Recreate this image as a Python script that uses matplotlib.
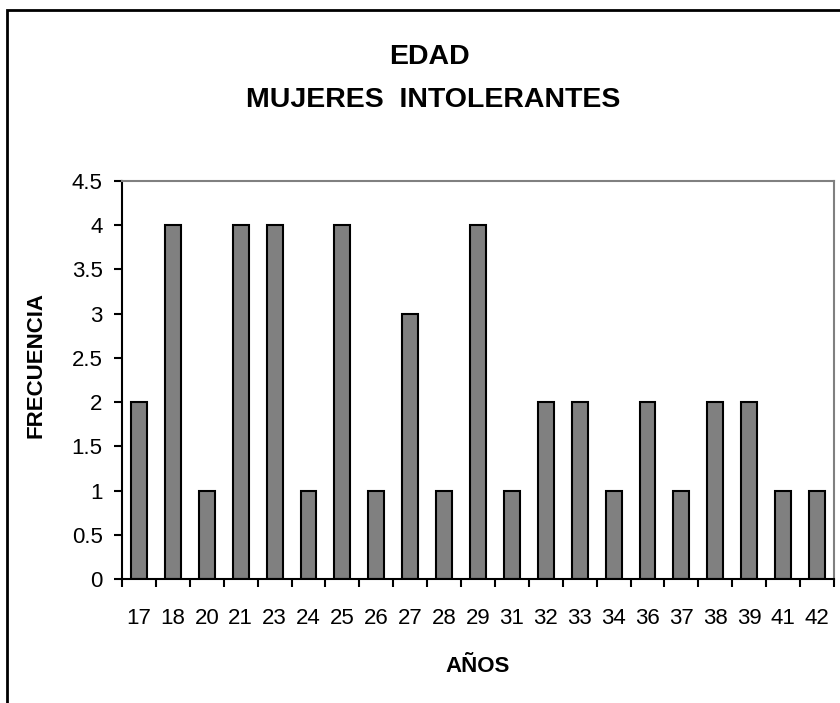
import matplotlib
matplotlib.use("Agg")
from matplotlib import pyplot as plt
from matplotlib.patches import Rectangle

# datos
edades = ["17", "18", "20", "21", "23", "24", "25", "26", "27", "28", "29",
          "31", "32", "33", "34", "36", "37", "38", "39", "41", "42"]
frecuencia = [2, 4, 1, 4, 4, 1, 4, 1, 3, 1, 4, 1, 2, 2, 1, 2, 1, 2, 2, 1, 1]
yticks = [0, 0.5, 1, 1.5, 2, 2.5, 3, 3.5, 4, 4.5]
ylabels = ["0", "0.5", "1", "1.5", "2", "2.5", "3", "3.5", "4", "4.5"]

plt.rcParams["font.family"] = ["Liberation Sans", "DejaVu Sans"]

W, H = 840, 703
fig = plt.figure(figsize=(W / 100, H / 100), dpi=100)
ax = fig.add_axes([122 / W, 1 - 579 / H, 712 / W, 398 / H])

pos = list(range(len(edades)))
ax.bar(pos, frecuencia, width=0.47, color="#808080", edgecolor="black", linewidth=1.5)

ax.set_xlim(-0.5, len(edades) - 0.5)
ax.set_ylim(0, 4.5)

ax.set_yticks(yticks)
ax.set_yticklabels(ylabels, fontsize=16)
ax.tick_params(axis="y", direction="out", length=6, width=1.5, pad=8)

ax.set_xticks(pos)
ax.set_xticklabels(edades, fontsize=16)
ax.set_xticks([p - 0.5 for p in pos] + [len(edades) - 0.5], minor=True)
ax.tick_params(axis="x", which="major", length=0, pad=21)
ax.tick_params(axis="x", which="minor", direction="out", length=6, width=1.5)

for s in ["left", "bottom"]:
    ax.spines[s].set_color("black")
    ax.spines[s].set_linewidth(1.5)
for s in ["top", "right"]:
    ax.spines[s].set_color("#808080")
    ax.spines[s].set_linewidth(1.5)

fig.text(429 / W, 1 - 64 / H, "EDAD", ha="center", va="baseline",
         fontsize=20.5, fontweight="bold")
fig.text(433 / W, 1 - 107 / H, "MUJERES  INTOLERANTES", ha="center", va="baseline",
         fontsize=20.5, fontweight="bold")
fig.text(36 / W, 1 - 365 / H, "FRECUENCIA", ha="center", va="center",
         rotation=90, fontsize=16, fontweight="bold")
fig.text(478 / W, 1 - 672 / H, "AÑOS", ha="center", va="baseline",
         fontsize=16, fontweight="bold")

# marco exterior
fig.patches.append(Rectangle((7 / W, -0.1), 1.2, 1 - 10.5 / H + 0.1,
                             transform=fig.transFigure, fill=False,
                             edgecolor="black", linewidth=2))

fig.savefig("out.png", dpi=100)
